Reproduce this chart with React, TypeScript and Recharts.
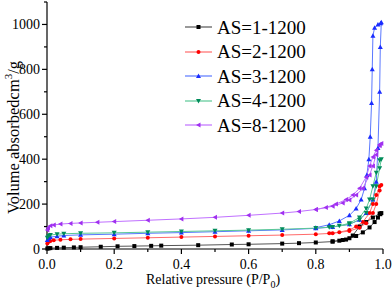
import React from 'react';
import { LineChart, Line, XAxis, YAxis, Legend } from 'recharts';

// relative pressure (P/P0) and volume adsorbed, adsorption branch then desorption branch
const as1Pressure = [0.001, 0.005, 0.01, 0.03, 0.05, 0.08, 0.1, 0.16, 0.21, 0.26, 0.31, 0.34, 0.45, 0.55, 0.6, 0.7, 0.75, 0.8, 0.85, 0.87, 0.89, 0.92, 0.94, 0.96, 0.975, 0.985, 0.992, 0.995, 0.99, 0.97, 0.95, 0.93, 0.91, 0.9, 0.88, 0.85];
const as1Volume = [2, 3, 4, 5, 6, 7, 8, 10, 12, 13, 14, 15, 17, 20, 21, 24, 26, 29, 33, 37, 42, 58, 74, 96, 120, 140, 155, 160, 158, 140, 120, 100, 60, 48, 40, 34];

const as2Pressure = [0.001, 0.005, 0.01, 0.02, 0.04, 0.07, 0.1, 0.2, 0.3, 0.4, 0.5, 0.6, 0.7, 0.8, 0.85, 0.9, 0.93, 0.95, 0.97, 0.98, 0.99, 0.995, 0.99, 0.98, 0.97, 0.96, 0.94, 0.92, 0.9, 0.87, 0.84];
const as2Volume = [25, 32, 36, 39, 41, 43, 44, 47, 50, 53, 56, 59, 62, 66, 70, 80, 95, 115, 160, 200, 260, 285, 280, 240, 200, 160, 120, 100, 85, 75, 70];

const as3Pressure = [0.001, 0.005, 0.01, 0.03, 0.05, 0.1, 0.2, 0.3, 0.4, 0.5, 0.6, 0.7, 0.8, 0.85, 0.9, 0.93, 0.95, 0.97, 0.98, 0.985, 0.99, 0.992, 0.995, 0.993, 0.985, 0.975, 0.97, 0.968, 0.966, 0.962, 0.958, 0.952, 0.945, 0.935, 0.92, 0.9, 0.87, 0.84, 0.8];
const as3Volume = [40, 48, 53, 57, 60, 63, 66, 70, 73, 77, 81, 85, 92, 98, 110, 130, 160, 220, 300, 450, 700, 900, 1010, 1005, 1000, 985, 950, 800, 650, 500, 400, 330, 270, 220, 180, 150, 125, 108, 95];

const as4Pressure = [0.001, 0.005, 0.01, 0.03, 0.05, 0.1, 0.2, 0.3, 0.4, 0.5, 0.6, 0.7, 0.8, 0.85, 0.9, 0.93, 0.95, 0.97, 0.98, 0.99, 0.995, 0.99, 0.98, 0.97, 0.96, 0.95, 0.93, 0.9, 0.87, 0.84];
const as4Volume = [50, 58, 62, 66, 68, 70, 72, 75, 78, 81, 84, 88, 93, 98, 110, 130, 160, 220, 280, 360, 400, 395, 340, 280, 220, 180, 140, 115, 103, 97];

const as8Pressure = [0.001, 0.003, 0.01, 0.02, 0.04, 0.07, 0.1, 0.15, 0.2, 0.3, 0.4, 0.5, 0.6, 0.7, 0.75, 0.8, 0.85, 0.88, 0.9, 0.92, 0.94, 0.96, 0.97, 0.98, 0.99, 0.995, 0.99, 0.98, 0.97, 0.96, 0.95, 0.93, 0.91, 0.89, 0.86, 0.83, 0.8];
const as8Volume = [85, 95, 103, 107, 111, 114, 116, 119, 122, 128, 134, 141, 150, 160, 167, 176, 190, 205, 218, 240, 270, 330, 370, 420, 460, 470, 465, 440, 410, 370, 320, 270, 240, 220, 200, 185, 176];

const xTicks = [0, 0.1, 0.2, 0.3, 0.4, 0.5, 0.6, 0.7, 0.8, 0.9, 1.0];
const yTicks = [0, 100, 200, 300, 400, 500, 600, 700, 800, 900, 1000, 1100];

const toPoints = (p: number[], v: number[]) => p.map((x, i) => ({ p: x, v: v[i] }));

type Shape = 'square' | 'circle' | 'up' | 'down' | 'left';

const series = [
  { name: 'AS=1-1200', color: '#000000', line: '#555555', shape: 'square' as Shape, data: toPoints(as1Pressure, as1Volume) },
  { name: 'AS=2-1200', color: '#ff0000', line: '#ff6a6a', shape: 'circle' as Shape, data: toPoints(as2Pressure, as2Volume) },
  { name: 'AS=3-1200', color: '#1a2cff', line: '#5a78ff', shape: 'up' as Shape, data: toPoints(as3Pressure, as3Volume) },
  { name: 'AS=4-1200', color: '#008c5a', line: '#5ac896', shape: 'down' as Shape, data: toPoints(as4Pressure, as4Volume) },
  { name: 'AS=8-1200', color: '#a030f0', line: '#c070ff', shape: 'left' as Shape, data: toPoints(as8Pressure, as8Volume) },
];

const FONT = 'Liberation Serif';

function marker(shape: Shape, cx: number, cy: number, color: string, key?: string | number) {
  const s = 2;
  if (shape === 'square') return <rect key={key} x={cx - s} y={cy - s} width={s * 2} height={s * 2} fill={color} />;
  if (shape === 'circle') return <circle key={key} cx={cx} cy={cy} r={s} fill={color} />;
  const pts =
    shape === 'up'
      ? `${cx},${cy - s - 0.5} ${cx - s - 0.5},${cy + s} ${cx + s + 0.5},${cy + s}`
      : shape === 'down'
      ? `${cx},${cy + s + 0.5} ${cx - s - 0.5},${cy - s} ${cx + s + 0.5},${cy - s}`
      : `${cx - s - 0.5},${cy} ${cx + s},${cy - s - 0.5} ${cx + s},${cy + s + 0.5}`;
  return <polygon key={key} points={pts} fill={color} />;
}

function XTick(props: any) {
  const { x, y, payload } = props;
  const axisY = y - 8;
  const major = Math.round(payload.value * 10) % 2 === 0;
  return (
    <g>
      <line x1={x} y1={axisY} x2={x} y2={axisY + (major ? 5 : 3)} stroke="#000" strokeWidth={1.2} />
      {major && (
        <text x={x} y={axisY + 20} textAnchor="middle" fontSize={14} fontFamily={FONT} fill="#000">
          {payload.value.toFixed(1)}
        </text>
      )}
    </g>
  );
}

function YTick(props: any) {
  const { x, y, payload } = props;
  const axisX = x + 8;
  const major = payload.value % 200 === 0 && payload.value <= 1000;
  return (
    <g>
      <line x1={axisX} y1={y} x2={axisX - (major ? 5 : 3)} y2={y} stroke="#000" strokeWidth={1.2} />
      {major && (
        <text x={axisX - 7} y={y + 5} textAnchor="end" fontSize={14} fontFamily={FONT} fill="#000">
          {payload.value}
        </text>
      )}
    </g>
  );
}

function YLabel(props: any) {
  const { viewBox } = props;
  const cy = viewBox.y + viewBox.height / 2 + 12;
  return (
    <text x={13} y={cy} transform={`rotate(-90, 13, ${cy})`} textAnchor="middle" dominantBaseline="central" fontSize={16.5} fontFamily={FONT} fill="#000">
      Volume absorbedcm<tspan dy={-5} fontSize={11}>3</tspan><tspan dy={5}>/g</tspan>
    </text>
  );
}

function XLabel(props: any) {
  const { viewBox } = props;
  const cx = viewBox.x + 166;
  return (
    <text x={cx} y={284} textAnchor="middle" fontSize={14} fontFamily={FONT} fill="#000">
      Relative pressure (P/P<tspan dy={4} fontSize={10}>0</tspan><tspan dy={-4}>)</tspan>
    </text>
  );
}

function LegendBox() {
  return (
    <div style={{ fontFamily: FONT, fontSize: 19, color: '#000', lineHeight: 1 }}>
      {series.map((s) => (
        <div key={s.name} style={{ display: 'flex', alignItems: 'center', height: 24.5 }}>
          <svg width={32} height={10} style={{ marginRight: 1 }}>
            <line x1={1} y1={5} x2={28} y2={5} stroke={s.line} strokeWidth={1.2} />
            {marker(s.shape, 14.5, 5, s.color)}
          </svg>
          <span>{s.name}</span>
        </div>
      ))}
    </div>
  );
}

export default function App() {
  return (
    <div style={{ position: 'absolute', left: 0, top: 0, width: 392, height: 289, background: '#fff' }}>
      <LineChart width={392} height={289} margin={{ top: 2, right: 9, left: 0, bottom: 0 }}>
        <XAxis
          type="number"
          dataKey="p"
          domain={[0, 1]}
          ticks={xTicks}
          interval={0}
          height={40}
          stroke="#000"
          strokeWidth={1.2}
          tickLine={false}
          tickSize={5}
          tickMargin={3}
          tick={<XTick />}
          allowDuplicatedCategory={false}
          label={<XLabel />}
        />
        <XAxis xAxisId="top" orientation="top" type="number" domain={[0, 1]} height={0} tick={false} tickLine={false} stroke="#000" strokeWidth={1.2} />
        <YAxis
          type="number"
          dataKey="v"
          domain={[0, 1100]}
          ticks={yTicks}
          interval={0}
          width={47}
          stroke="#000"
          strokeWidth={1.2}
          tickLine={false}
          tickSize={5}
          tickMargin={3}
          tick={<YTick />}
          label={<YLabel />}
        />
        <YAxis yAxisId="right" orientation="right" type="number" domain={[0, 1100]} width={0} tick={false} tickLine={false} stroke="#000" strokeWidth={1.2} />
        <Legend
          layout="vertical"
          align="center"
          verticalAlign="middle"
          content={<LegendBox />}
          wrapperStyle={{ left: 184, top: 15, width: 170 }}
        />
        {series.map((s) => (
          <Line
            key={s.name}
            data={s.data}
            dataKey="v"
            name={s.name}
            type="linear"
            stroke={s.line}
            strokeWidth={1}
            isAnimationActive={false}
            dot={(d: any) => marker(s.shape, d.cx, d.cy, s.color, d.index)}
            activeDot={false}
          />
        ))}
      </LineChart>
    </div>
  );
}
